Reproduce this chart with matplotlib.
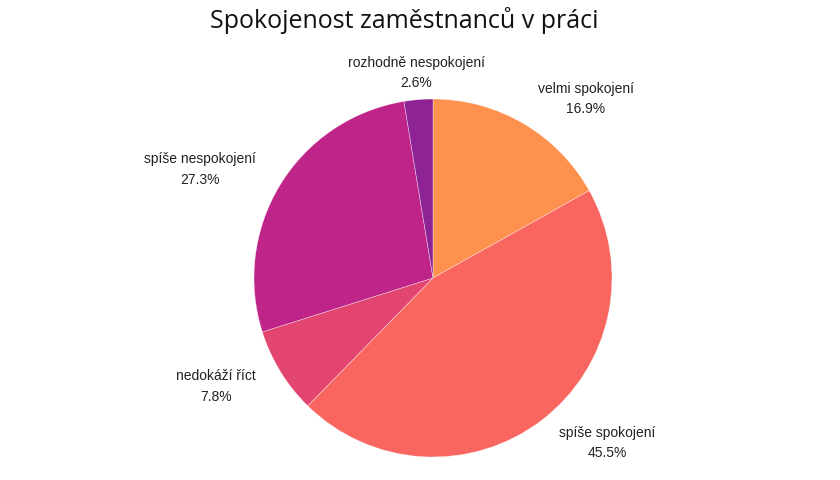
import numpy as np
import matplotlib
matplotlib.use("Agg")
import matplotlib.pyplot as plt

categories = ["velmi spokojení", "spíše spokojení", "nedokáží říct", "spíše nespokojení", "rozhodně nespokojení"]
values = [16.9, 45.5, 7.8, 27.3, 2.6]
colors = ["#FF914F", "#F8665F", "#E2456F", "#BF2488", "#8E2494"]
title = "Spokojenost zaměstnanců v práci"

fig = plt.figure(figsize=(8.4, 4.8), dpi=100)
# pie centre (433, 278) px, radius 179 px
R = 179
cx, cy = 433, 278
ax = fig.add_axes([(cx - R) / 840, (480 - cy - R) / 480, 2 * R / 840, 2 * R / 480])
wedges, _ = ax.pie(values, colors=colors, startangle=90, counterclock=False,
                   wedgeprops=dict(edgecolor=(1, 1, 1, 0.6), linewidth=0.4))
ax.set_xlim(-1, 1)
ax.set_ylim(-1, 1)
ax.set_aspect("auto")

total = sum(values)
cum = 0
for cat, v in zip(categories, values):
    mid = 90 - (cum + v / 2) / total * 360
    cum += v
    a = np.deg2rad(mid)
    c, s = np.cos(a), np.sin(a)
    d = 1.16
    if abs(c) < 0.2:
        ha = "center"
        d = 1.15
    elif c > 0:
        ha = "left"
    else:
        ha = "right"
    ax.text(d * c, d * s, f"{cat}\n{v:.1f}%", ha=ha, va="center", multialignment="center",
            fontsize=10, family=["Liberation Sans", "DejaVu Sans"], color="#222222",
            linespacing=1.6, clip_on=False)

fig.text(404 / 840, 1 - 21 / 480, title, ha="center", va="center", fontsize=18,
         family=["Open Sans", "DejaVu Sans"], color="#111111")

fig.savefig("out.png", dpi=100, facecolor="white")
